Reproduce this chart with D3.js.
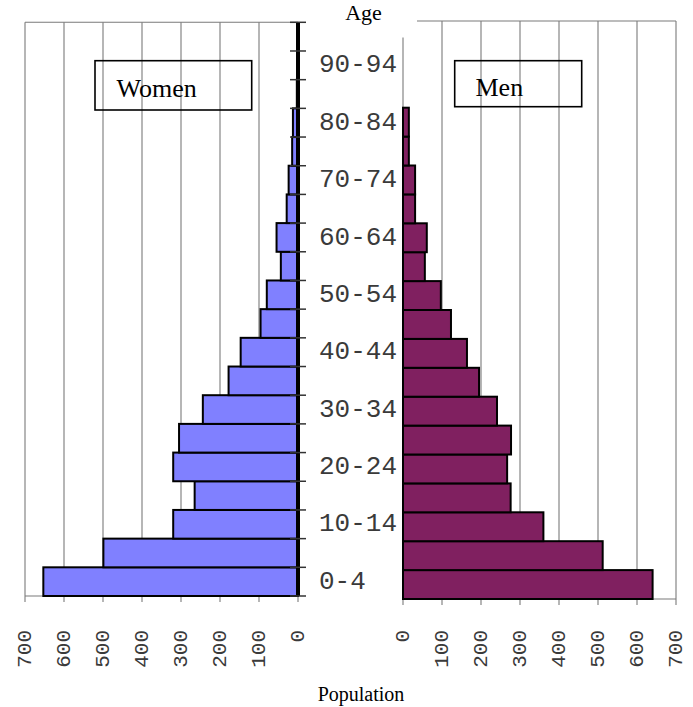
<!DOCTYPE html>
<html><head><meta charset="utf-8">
<script src="https://cdn.jsdelivr.net/npm/d3@7"></script>
<style>body{margin:0;background:#fff}svg{display:block}</style>
</head><body>
<svg id="chart" width="693" height="707"></svg>
<script>
const ageGroups = ["0-4","5-9","10-14","15-19","20-24","25-29","30-34","35-39","40-44","45-49","50-54","55-59","60-64","65-69","70-74","75-79","80-84","85-89","90-94","95-99"];
const women = [653,499,320,265,320,305,244,178,147,96,80,44,55,29,24,15,13,3,1,0];
const men   = [640,512,360,276,267,277,241,195,164,123,97,56,61,31,31,15,15,0,0,0];
const popTicks = [0,100,200,300,400,500,600,700];
const labelledAges = ["0-4","10-14","20-24","30-34","40-44","50-54","60-64","70-74","80-84","90-94"];
const titleAge = "Age", titleX = "Population", nameW = "Women", nameM = "Men";

const svg = d3.select("#chart");
const grid = "#7a7a7a";
const monoFont = "'Liberation Mono','Courier New',monospace";
const serifFont = "'Liberation Serif','Times New Roman',serif";

const xW = d3.scaleLinear().domain([0,700]).range([298,25]);
const xM = d3.scaleLinear().domain([0,700]).range([403,676]);
const yW = d3.scaleBand().domain(ageGroups).range([596,22.3]);
const yM = d3.scaleBand().domain(ageGroups).range([599,21]);

const wTop = yW.range()[1], wBot = yW.range()[0];
const mTop = yM.range()[1], mBot = yM.range()[0];

// gridlines
svg.append("g").selectAll("line").data(popTicks.filter(d=>d>0)).join("line")
  .attr("x1",d=>xW(d)).attr("x2",d=>xW(d)).attr("y1",wTop).attr("y2",wBot)
  .attr("stroke",grid).attr("stroke-width",1.1);
svg.append("g").selectAll("line").data(popTicks).join("line")
  .attr("x1",d=>xM(d)).attr("x2",d=>xM(d)).attr("y1",mTop).attr("y2",mBot)
  .attr("stroke",grid).attr("stroke-width",1.1);
// frame lines
svg.append("line").attr("x1",xW(700)).attr("x2",xW(0)).attr("y1",wTop).attr("y2",wTop).attr("stroke",grid).attr("stroke-width",1.1);
svg.append("line").attr("x1",xW(700)).attr("x2",xW(0)).attr("y1",wBot).attr("y2",wBot).attr("stroke",grid).attr("stroke-width",1.1);
svg.append("line").attr("x1",xM(0)).attr("x2",xM(700)).attr("y1",mTop).attr("y2",mTop).attr("stroke",grid).attr("stroke-width",1.1);
svg.append("line").attr("x1",xM(0)).attr("x2",xM(700)).attr("y1",mBot).attr("y2",mBot).attr("stroke",grid).attr("stroke-width",1.1);

// bottom ticks
svg.append("g").selectAll("line").data(popTicks).join("line")
  .attr("x1",d=>xW(d)).attr("x2",d=>xW(d)).attr("y1",wBot).attr("y2",wBot+6)
  .attr("stroke",grid).attr("stroke-width",1.1);
svg.append("g").selectAll("line").data(popTicks).join("line")
  .attr("x1",d=>xM(d)).attr("x2",d=>xM(d)).attr("y1",mBot).attr("y2",mBot+6)
  .attr("stroke",grid).attr("stroke-width",1.1);

// bars
svg.append("g").selectAll("rect").data(ageGroups).join("rect")
  .attr("x",(d,i)=>xW(women[i])).attr("width",(d,i)=>xW(0)-xW(women[i]))
  .attr("y",d=>yW(d)).attr("height",yW.bandwidth())
  .attr("fill","#8080ff").attr("stroke","#000").attr("stroke-width",2)
  .style("display",(d,i)=>women[i]>0?null:"none");
svg.append("g").selectAll("rect").data(ageGroups).join("rect")
  .attr("x",xM(0)).attr("width",(d,i)=>xM(men[i])-xM(0))
  .attr("y",d=>yM(d)).attr("height",yM.bandwidth())
  .attr("fill","#802060").attr("stroke","#000").attr("stroke-width",2)
  .style("display",(d,i)=>men[i]>0?null:"none");

// women category axis (thick) with crossing ticks
svg.append("line").attr("x1",xW(0)).attr("x2",xW(0)).attr("y1",wTop).attr("y2",wBot)
  .attr("stroke","#000").attr("stroke-width",4);
const bounds = ageGroups.map(d=>yW(d)).concat([wBot]);
svg.append("g").selectAll("line").data(bounds).join("line")
  .attr("x1",xW(0)-8).attr("x2",xW(0)+8).attr("y1",d=>d).attr("y2",d=>d)
  .attr("stroke","#333").attr("stroke-width",1.5);

// title background (covers corner of men panel)
svg.append("rect").attr("x",310).attr("y",0).attr("width",107).attr("height",37.5).attr("fill","#fff");
svg.append("text").attr("x",363.5).attr("y",20).attr("text-anchor","middle")
  .attr("font-family",serifFont).attr("font-size",22).text(titleAge);

// age labels
svg.append("g").selectAll("text").data(labelledAges).join("text")
  .attr("x",319).attr("y",d=>yW(d)+yW.bandwidth()/2-2)
  .attr("dy","0.35em")
  .attr("font-family",monoFont).attr("font-size",26).attr("fill","#3a3a3a").text(d=>d);

// tick labels (rotated)
svg.append("g").selectAll("text").data(popTicks).join("text")
  .attr("transform",d=>`translate(${xW(d)-1},630) rotate(-90)`)
  .attr("text-anchor","end").attr("dy","0.35em")
  .attr("font-family",monoFont).attr("font-size",21).attr("fill","#3a3a3a").text(d=>d);
svg.append("g").selectAll("text").data(popTicks).join("text")
  .attr("transform",d=>`translate(${xM(d)-1},630) rotate(-90)`)
  .attr("text-anchor","end").attr("dy","0.35em")
  .attr("font-family",monoFont).attr("font-size",21).attr("fill","#3a3a3a").text(d=>d);

svg.append("text").attr("x",361).attr("y",701).attr("text-anchor","middle")
  .attr("font-family",serifFont).attr("font-size",20).text(titleX);

// panel name boxes
svg.append("rect").attr("x",95).attr("y",60.7).attr("width",156.7).attr("height",49.3)
  .attr("fill","none").attr("stroke","#000").attr("stroke-width",1.6);
svg.append("text").attr("x",116.5).attr("y",96.5).attr("font-family",serifFont).attr("font-size",26).text(nameW);
svg.append("rect").attr("x",454.7).attr("y",60.7).attr("width",127).attr("height",46)
  .attr("fill","none").attr("stroke","#000").attr("stroke-width",1.6);
svg.append("text").attr("x",475.5).attr("y",96).attr("font-family",serifFont).attr("font-size",26).text(nameM);
</script>
</body></html>
